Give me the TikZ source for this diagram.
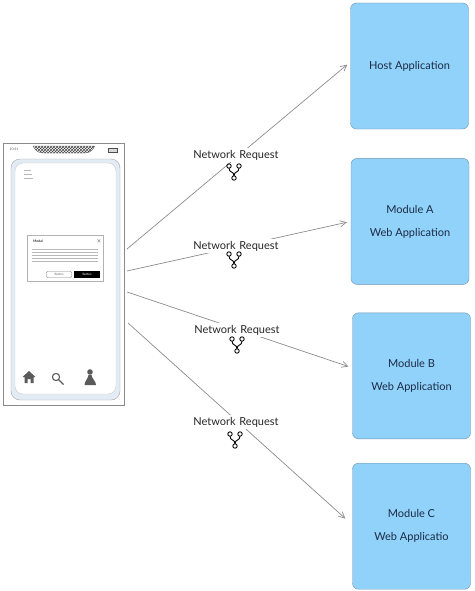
\documentclass[tikz,border=0pt]{standalone}
\usepackage{fontspec}
\setmainfont{Lato}
\usepackage{xcolor}
\usetikzlibrary{arrows.meta,positioning,patterns}
\definecolor{boxblue}{HTML}{90D2FA}
\definecolor{boxedge}{HTML}{6E93AC}
\definecolor{inkblue}{HTML}{1C2B45}
\definecolor{wireline}{HTML}{8C8C8C}
\definecolor{framegray}{HTML}{8A8A8A}
\definecolor{screenblue}{HTML}{E3EBF5}
\definecolor{icongray}{HTML}{5A5A5A}
\tikzset{
  appbox/.style={
    rectangle, rounded corners=6pt, draw=boxedge, fill=boxblue,
    minimum width=118pt, minimum height=126pt, inner sep=0pt,
    align=center, font=\fontsize{11}{23}\selectfont, text=inkblue
  },
  reqlabel/.style={
    rectangle, fill=white, inner sep=0pt, text width=88pt, align=center,
    minimum height=14pt, font=\fontsize{11}{13}\selectfont, text=black!85
  },
  reqarrow/.style={-{Straight Barb[length=6pt,width=6pt]}, draw=wireline, line width=0.7pt, shorten >=4pt},
  tinyline/.style={draw=black!28, line width=0.5pt},
  tinytext/.style={inner sep=0pt, font=\fontsize{3.5}{4}\selectfont},
  netfork/.pic={
    \draw[line width=0.9pt] (-5,-6) circle (2.2pt) (5,-6) circle (2.2pt) (0,6) circle (2.2pt);
    \draw[line width=0.9pt] (-5,-3.8) .. controls (-5,1) and (0,-1) .. (0,3.8);
    \draw[line width=0.9pt] (5,-3.8) .. controls (5,1) and (0,-1) .. (0,3.8);
  },
}
\begin{document}
\begin{tikzpicture}[x=1pt,y=-1pt]
  \useasboundingbox (0,0) rectangle (474,591);

  % target applications
  \node[appbox] (host) at (409.5,66) {\raisebox{-1.5pt}{Host Application}};
  \node[appbox, below=29pt of host, xshift=0.5pt] (moda) {Module A\\Web Application};
  \node[appbox, below=28pt of moda, xshift=1.5pt] (modb) {Module B\\Web Application};
  \node[appbox, below=24pt of modb] (modc) {Module C\\Web Applicatio};

  % phone wireframe
  \node[rectangle, draw=framegray, fill=white, minimum width=121pt, minimum height=262pt, inner sep=0pt] (phone) at (63.5,274) {};
  \node[rectangle, rounded corners=9pt, draw=black!35, fill=screenblue, minimum width=109pt, minimum height=241pt, inner sep=0pt] (frame) at (65.5,279.5) {};
  \node[rectangle, rounded corners=8pt, draw=black!20, fill=white, minimum width=101pt, minimum height=231pt, inner sep=0pt] (screen) at (65.5,278.5) {};
  \draw[draw=black!60, pattern=crosshatch, pattern color=black!75] (33,146) -- (95,146) .. controls (92,152) and (88,153) .. (84,153) -- (44,153) .. controls (40,153) and (36,152) .. (33,146) -- cycle;
  \node[tinytext, text=black!60] (clock) at (14,149) {10:41};
  \node[rectangle, draw=black!70, fill=black!15, minimum width=9pt, minimum height=4pt, inner sep=0pt] (battery) at (113,150) {};
  \draw[tinyline] (24,170) -- (31,170) (24,174) -- (32,174) (24,178) -- (33,178);

  % modal
  \node[rectangle, draw=black!30, fill=white, minimum width=76pt, minimum height=46pt, inner sep=0pt] (modal) at (65,258.5) {};
  \node[tinytext] (modaltitle) at (38,241) {Modal};
  \node[tinytext] (modalclose) at (99,241) {$\times$};
  \foreach \yy in {249,252,255,258,261}
    \draw[tinyline] (32,\yy) -- (98,\yy);
  \node[rectangle, rounded corners=1pt, draw=black!50, fill=white, minimum width=25pt, minimum height=6pt, inner sep=0pt, font=\fontsize{3}{4}\selectfont, text=black!60] (btnleft) at (59,274.5) {Button};
  \node[rectangle, fill=black, minimum width=26pt, minimum height=7pt, inner sep=0pt, font=\fontsize{3}{4}\selectfont, text=white] (btnright) at (87,274.5) {Button};

  % bottom icons
  \fill[icongray] (29,371) -- (35.5,377) -- (33.5,377) -- (33.5,383) -- (30.5,383) -- (30.5,379) -- (27.5,379) -- (27.5,383) -- (24.5,383) -- (24.5,377) -- (22.5,377) -- cycle;
  \draw[icongray, line width=1.1pt] (56,377) circle (3.6pt) (58.6,379.6) -- (63.5,384.5);
  \fill[icongray] (90,372) circle (2.8pt);
  \fill[icongray] (88.5,375) -- (91.5,375) .. controls (92,379) and (96,381) .. (96,385) -- (84.5,385) .. controls (84.5,381) and (88,379) .. (88.5,375) -- cycle;

  % requests
  \coordinate (out1) at (127,249);
  \coordinate (out2) at (127,271);
  \coordinate (out3) at (127,292);
  \coordinate (out4) at (128,323);
  \draw[reqarrow] (out1) -- ([yshift=4pt]host.west);
  \draw[reqarrow] (out2) -- (moda.west);
  \draw[reqarrow] (out3) -- ([yshift=8pt]modb.west);
  \draw[reqarrow] (out4) -- ([yshift=5pt,xshift=-4pt]modc.west);

  \node[reqlabel] (req1) at (236,155) {Network Request};
  \node[reqlabel] (req2) at (236,246) {Network Request};
  \node[reqlabel] (req3) at (237,330) {Network Request};
  \node[reqlabel] (req4) at (236,422) {Network Request};
  \pic at ([xshift=-2pt,yshift=-17pt]req1.center) {netfork};
  \pic at ([xshift=-2pt,yshift=-14pt]req2.center) {netfork};
  \pic at ([yshift=-15pt]req3.center) {netfork};
  \pic at ([xshift=-1pt,yshift=-18pt]req4.center) {netfork};
\end{tikzpicture}
\end{document}
